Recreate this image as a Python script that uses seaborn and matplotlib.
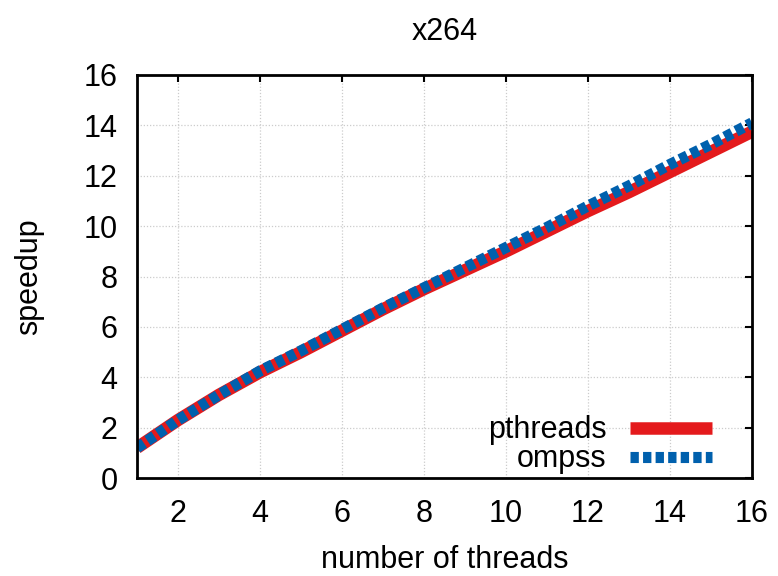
import matplotlib
matplotlib.use("Agg")
import matplotlib.pyplot as plt
import seaborn as sns
import pandas as pd
from matplotlib.lines import Line2D

threads = list(range(1, 17))
pthreads = [1.2, 2.3, 3.3, 4.2, 5.0, 5.85, 6.7, 7.5, 8.25, 9.0, 9.8, 10.6, 11.35, 12.15, 12.95, 13.75]
ompss = [1.2, 2.3, 3.3, 4.25, 5.05, 5.9, 6.75, 7.55, 8.35, 9.15, 9.95, 10.8, 11.6, 12.45, 13.25, 14.1]
series_names = ["pthreads", "ompss"]
xticks = [2, 4, 6, 8, 10, 12, 14, 16]
yticks = [0, 2, 4, 6, 8, 10, 12, 14, 16]

df = pd.DataFrame({
    "threads": threads * 2,
    "speedup": pthreads + ompss,
    "impl": [series_names[0]] * len(threads) + [series_names[1]] * len(threads),
})

sns.set_style("white")
plt.rcParams["font.family"] = ["Liberation Sans", "DejaVu Sans"]
plt.rcParams["text.color"] = "black"
plt.rcParams["axes.labelcolor"] = "black"

FS = 22
fig = plt.figure(figsize=(7.78, 5.76), dpi=100)
ax = fig.add_axes([137/778, 1 - 478/576, (752 - 137)/778, (478 - 75)/576])

palette = {"pthreads": "#e41a1c", "ompss": "#0060ad"}
sns.lineplot(data=df, x="threads", y="speedup", hue="impl", palette=palette,
             ax=ax, linewidth=8, legend=False)
lines = ax.get_lines()
lines[0].set_linewidth(9)
lines[0].set_solid_capstyle("butt")
lines[1].set_dashes([0.75, 0.38])
lines[1].set_dash_capstyle("butt")

ax.set_xlim(1, 16)
ax.set_ylim(0, 16)
ax.set_xticks(xticks)
ax.set_yticks(yticks)
ax.grid(True, color="#cccccc", linestyle=(0, (1, 1.5)), linewidth=0.9)
ax.tick_params(direction="in", length=5, width=1.5, top=True, right=True,
               labelsize=FS, colors="black")
ax.tick_params(axis="x", pad=15)
ax.tick_params(axis="y", pad=14)
for s in ax.spines.values():
    s.set_linewidth(2)
    s.set_color("black")

ax.set_xlabel("number of threads", fontsize=FS, labelpad=12, color="black")
ax.set_ylabel("speedup", fontsize=FS, labelpad=28, color="black")
ax.set_title("x264", fontsize=FS, pad=25, color="black")

h1 = Line2D([], [], color=palette["pthreads"], linewidth=9, solid_capstyle="butt")
h2 = Line2D([], [], color=palette["ompss"], linewidth=8, dashes=[0.75, 0.38], dash_capstyle="butt")
leg = ax.legend([h1, h2], series_names, loc="lower right", frameon=False,
                markerfirst=False, fontsize=FS, handlelength=2.7,
                handletextpad=0.75, labelspacing=-0.03, borderaxespad=0,
                borderpad=0, bbox_to_anchor=(575/615, 0.009), labelcolor="black")

fig.savefig("out.png", dpi=100)
